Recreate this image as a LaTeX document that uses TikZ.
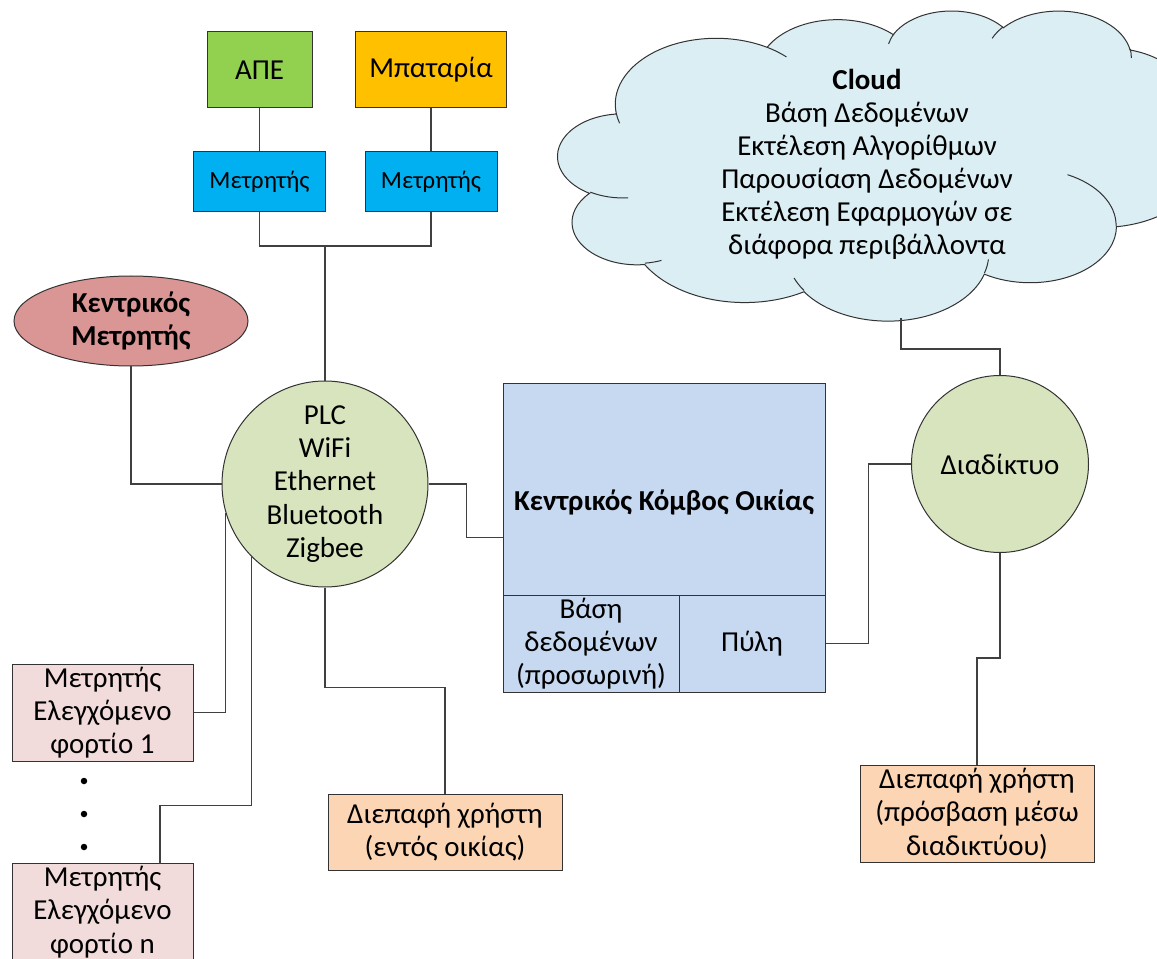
\documentclass[tikz,border=0pt]{standalone}
\usepackage{fontspec}
\setmainfont{Carlito}
\usetikzlibrary{calc,shapes.geometric}
\definecolor{apec}{HTML}{92D050}
\definecolor{batc}{HTML}{FFC000}
\definecolor{meterc}{HTML}{00B0F0}
\definecolor{kmc}{HTML}{DA9694}
\definecolor{circc}{HTML}{D7E4BD}
\definecolor{hubc}{HTML}{C6D9F1}
\definecolor{cloudc}{HTML}{DBEEF4}
\definecolor{uic}{HTML}{FCD5B5}
\definecolor{loadc}{HTML}{F2DCDB}
\definecolor{linec}{HTML}{404040}
\def\pp{*0.75pt}
\newcommand\cldarc[4]{%
  \pgfmathsetmacro\cldts{atan2((#1)*sin(#3),(#2)*cos(#3))}%
  \pgfmathsetmacro\cldte{atan2((#1)*sin((#3)+(#4)),(#2)*cos((#3)+(#4)))}%
  \pgfmathsetmacro\cldd{\cldte-\cldts}%
  \pgfmathsetmacro\cldd{ifthenelse((#4)>0,ifthenelse(\cldd<0,\cldd+360,\cldd),ifthenelse(\cldd>0,\cldd-360,\cldd))}%
  \pgfmathsetmacro\cldte{\cldts+\cldd}%
  \pgfpatharcaxes{\cldts}{\cldte}{\pgfpointxy{#1}{0}}{\pgfpointxy{0}{#2}}%
}
\begin{document}
\begin{tikzpicture}[x=0.75pt,y=-0.75pt,
  box/.style={draw=black!80, line width=0.75pt, inner sep=0pt, align=center,
    font=\fontsize{21.7}{25}\selectfont},
  smallbox/.style={box, font=\fontsize{18.5}{20}\selectfont},
  conn/.style={draw=linec, line width=0.9pt},
  dotnode/.style={circle, fill=black, inner sep=0pt, minimum size=6.5\pp}]
\clip (0,0) rectangle (1157,959);
\fill[white] (0,0) rectangle (1157,959);

% cloud
\begin{scope}[shift={(558,10)}, x=1.11979pt, y=-0.53819pt]
  \pgfsetlinewidth{0.75pt}
  \pgfsetstrokecolor{black!80}
  \pgfsetfillcolor{cloudc}
  \pgfpathmoveto{\pgfpointxy{39.00}{143.70}}
  \cldarc{67.53}{91.90}{-190.4875}{123.7805}
  \cldarc{53.33}{72.67}{-144.1024}{89.9452}
  \cldarc{43.65}{59.45}{-145.8079}{99.7230}
  \cldarc{48.57}{65.95}{-130.9861}{117.2417}
  \cldarc{53.33}{72.73}{-78.7089}{109.0269}
  \cldarc{67.75}{92.20}{-46.2673}{130.2690}
  \cldarc{57.85}{78.67}{0.6250}{114.0333}
  \cldarc{67.52}{92.15}{22.4516}{115.1726}
  \cldarc{77.20}{105.43}{66.2426}{75.7110}
  \cldarc{43.60}{59.18}{-274.9421}{146.7356}
  \cldarc{43.45}{59.45}{-246.8285}{152.5180}
  \pgfpathclose
  \pgfusepath{fill,stroke}
  \pgfpathmoveto{\pgfpointxy{46.93}{261.77}}\cldarc{43.45}{59.45}{86.7420}{26.4295}
  \pgfpathmoveto{\pgfpointxy{69.28}{348.99}}\cldarc{43.60}{59.18}{73.6105}{11.4475}
  \pgfpathmoveto{\pgfpointxy{164.78}{390.90}}\cldarc{67.52}{92.15}{137.6242}{14.0811}
  \pgfpathmoveto{\pgfpointxy{288.27}{347.51}}\cldarc{67.52}{92.15}{6.4533}{15.9984}
  \pgfpathmoveto{\pgfpointxy{341.29}{229.54}}\cldarc{57.85}{78.67}{-70.2924}{70.9174}
  \pgfpathmoveto{\pgfpointxy{417.98}{153.54}}\cldarc{53.33}{72.73}{30.3180}{27.7515}
  \pgfpathmoveto{\pgfpointxy{383.24}{54.26}}\cldarc{48.57}{65.95}{-13.7443}{14.8589}
  \pgfpathmoveto{\pgfpointxy{290.78}{39.52}}\cldarc{48.57}{65.95}{-149.1815}{18.1954}
  \pgfpathmoveto{\pgfpointxy{221.41}{47.20}}\cldarc{43.65}{59.45}{-163.4943}{17.6864}
  \pgfpathmoveto{\pgfpointxy{140.00}{51.92}}\cldarc{67.53}{91.90}{-66.7070}{12.3194}
  \pgfpathmoveto{\pgfpointxy{41.27}{157.89}}\cldarc{67.53}{91.90}{157.6544}{11.8582}
  \pgfusepath{stroke}
\end{scope}
\node[align=center, font=\fontsize{21.7}{24.75}\selectfont] (cloudtxt) at (867,164)
  {\textbf{Cloud}\\Βάση Δεδομένων\\Εκτέλεση Αλγορίθμων\\Παρουσίαση Δεδομένων\\Εκτέλεση Εφαρμογών σε\\διάφορα περιβάλλοντα};
\coordinate (cb) at (901,318);

% top sources
\node[box, fill=apec, minimum width=105\pp, minimum height=76\pp] (ape) at (259.5,70) {ΑΠΕ};
\node[box, fill=batc, minimum width=151\pp, minimum height=76\pp] (bat) at (431,70) {Μπαταρία};
\node[smallbox, fill=meterc, minimum width=132\pp, minimum height=60\pp] (ma) at (259.5,181.5) {Μετρητής};
\node[smallbox, fill=meterc, minimum width=132\pp, minimum height=60\pp] (mb) at (431,181.5) {Μετρητής};

% central meter
\node[box, ellipse, fill=kmc, minimum width=234\pp, minimum height=90\pp, inner sep=0pt, font=\fontsize{21.7}{25}\selectfont\bfseries] (km) at (131,321) {Κεντρικός\\Μετρητής};

% protocols circle
\node[box, circle, fill=circc, minimum size=206\pp] (plc) at (325,484) {PLC\\WiFi\\Ethernet\\Bluetooth\\Zigbee};

% hub
\node[box, fill=hubc, minimum width=322\pp, minimum height=309\pp] (hub) at (664,537.5) {};
\node[font=\fontsize{21.7}{25}\selectfont\bfseries] (hublbl) at (664,503) {Κεντρικός Κόμβος Οικίας};
\node[box, fill=hubc, minimum width=176\pp, minimum height=97\pp] (db) at (591,643.5) {Βάση\\δεδομένων\\(προσωρινή)};
\node[box, fill=hubc, minimum width=146\pp, minimum height=97\pp] (gw) at (752,643.5) {Πύλη};

% internet
\node[box, circle, fill=circc, minimum size=177\pp] (net) at (1000,464) {Διαδίκτυο};
\node[box, fill=uic, minimum width=234\pp, minimum height=97\pp] (ui2) at (977,813.5) {Διεπαφή χρήστη\\(πρόσβαση μέσω\\διαδικτύου)};

% home UI
\node[box, fill=uic, minimum width=234\pp, minimum height=76\pp] (ui1) at (445,832) {Διεπαφή χρήστη\\(εντός οικίας)};

% loads
\node[box, fill=loadc, minimum width=181\pp, minimum height=97\pp] (load1) at (102.5,712.5) {Μετρητής\\Ελεγχόμενο\\φορτίο 1};
\node[box, fill=loadc, minimum width=181\pp, minimum height=97\pp] (loadn) at (102.5,912) {Μετρητής\\Ελεγχόμενο\\φορτίο n};
\node[dotnode] (d1) at (84,781) {};
\node[dotnode] (d2) at (84,814) {};
\node[dotnode] (d3) at (84,847) {};
\coordinate (lnin) at (160,863.5);
\coordinate (j) at (325,246);

% connectors
\draw[conn] (ape.south) -- (ma.north);
\draw[conn] (bat.south) -- (mb.north);
\draw[conn] (ma.south) |- (j) -| (mb.south);
\draw[conn] (j) -- (plc.north);
\draw[conn] (km.south) |- (plc.west);
\draw[conn] (plc.east) -- ++(38,0) |- (hub.west);
\draw[conn] (plc.196) |- (load1.east);
\draw[conn] (plc.225) |- ($(lnin)+(0,-58)$) -- (lnin);
\draw[conn] (plc.south) -- ++(0,100) -| (ui1.north);
\draw[conn] (gw.east) -- ++(43,0) |- (net.west);
\draw[conn] (net.south) -- ++(0,105) -| (ui2.north);
\draw[conn] (cb) -- ++(0,31) -| (net.north);
\end{tikzpicture}
\end{document}
